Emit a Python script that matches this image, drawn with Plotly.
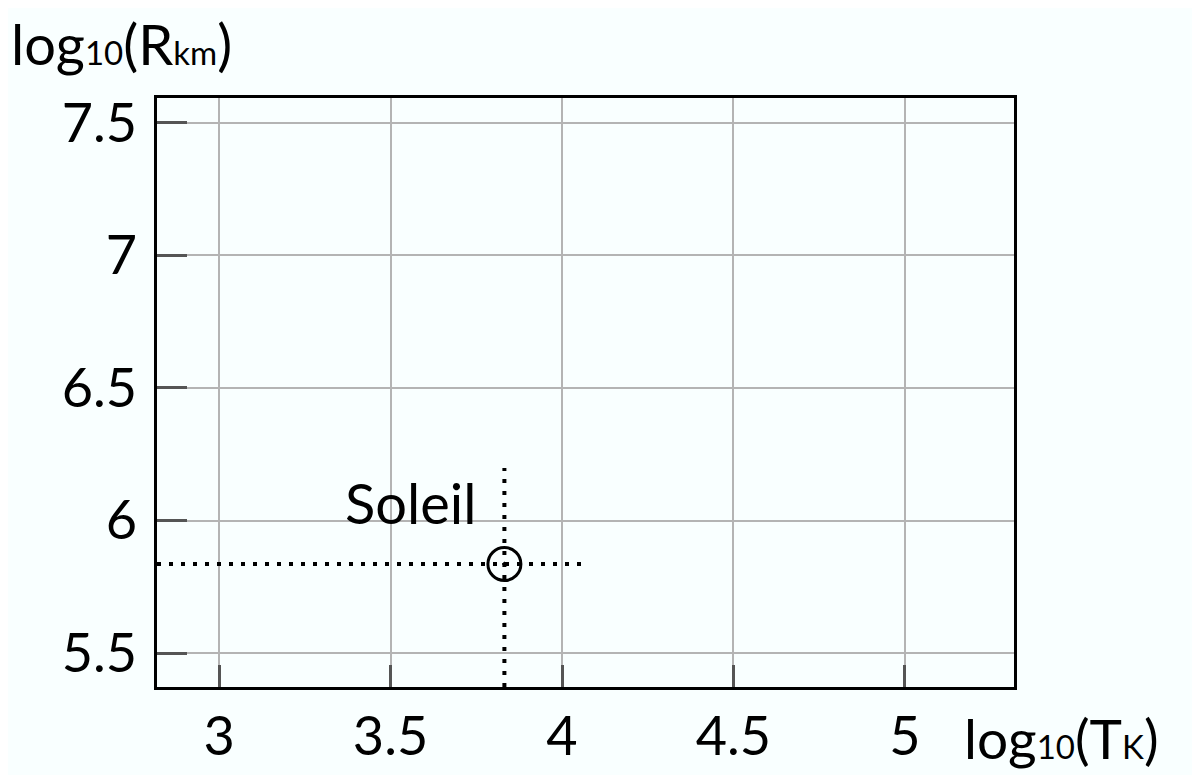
import plotly.graph_objects as go

# Data
sun_logT = [3.832]
sun_logR = [5.836]
sun_label = "Soleil"
hline_x = [2.819, 4.061]
vline_y = [5.372, 6.198]
x_ticks = [3, 3.5, 4, 4.5, 5]
x_ticktext = ["3", "3.5", "4", "4.5", "5"]
y_ticks = [5.5, 6, 6.5, 7, 7.5]
y_ticktext = ["5.5", "6", "6.5", "7", "7.5"]
x_range = [2.819, 5.318]
y_range = [5.372, 7.594]

FONT = "Lato"
BG = "#f9ffff"

fig = go.Figure()

# dotted guide lines
fig.add_trace(go.Scatter(x=hline_x, y=[sun_logR[0]] * 2, mode="lines",
                         line=dict(color="black", width=4, dash="4px,8px"),
                         hoverinfo="skip", showlegend=False))
fig.add_trace(go.Scatter(x=[sun_logT[0]] * 2, y=vline_y, mode="lines",
                         line=dict(color="black", width=4, dash="4px,8px"),
                         hoverinfo="skip", showlegend=False))
# sun symbol
fig.add_trace(go.Scatter(x=sun_logT, y=sun_logR, mode="markers",
                         marker=dict(symbol="circle-open-dot", size=33, color="black",
                                     line=dict(color="black", width=3)),
                         showlegend=False))

fig.add_annotation(x=3.557, y=6.068, text=sun_label, showarrow=False,
                   font=dict(family=FONT, size=56, color="black"))

small = "font-size:33px"
fig.add_annotation(xref="paper", yref="paper", x=-0.172, y=1.092, xanchor="left", yanchor="middle",
                   text=f"log<span style='{small}'>10</span>(R<span style='{small}'>km</span>)",
                   showarrow=False, borderpad=0,
                   font=dict(family=FONT, size=56, color="black"))
fig.add_annotation(xref="paper", yref="paper", x=0.94, y=-0.086, xanchor="left", yanchor="middle",
                   text=f"log<span style='{small}'>10</span>(T<span style='{small}'>K</span>)",
                   showarrow=False, borderpad=0,
                   font=dict(family=FONT, size=55, color="black"))

fig.update_xaxes(range=x_range, tickvals=x_ticks, ticktext=x_ticktext,
                 ticks="inside", ticklen=22, tickwidth=3, tickcolor="#555555",
                 showgrid=True, gridcolor="#b4b4b4", gridwidth=2,
                 showline=True, linecolor="black", linewidth=3, mirror=True,
                 zeroline=False, ticklabelstandoff=0,
                 tickfont=dict(family=FONT, size=54, color="black"))
fig.update_yaxes(range=y_range, tickvals=y_ticks, ticktext=y_ticktext,
                 ticks="inside", ticklen=30, tickwidth=3, tickcolor="#555555",
                 showgrid=True, gridcolor="#b4b4b4", gridwidth=2,
                 showline=True, linecolor="black", linewidth=3, mirror=True,
                 zeroline=False, ticklabelstandoff=6,
                 tickfont=dict(family=FONT, size=54, color="black"))

fig.update_layout(width=1200, height=775,
                  margin=dict(l=149, r=194, t=90, b=96, autoexpand=False),
                  paper_bgcolor=BG, plot_bgcolor=BG, showlegend=False)

fig.write_html("out.html")
